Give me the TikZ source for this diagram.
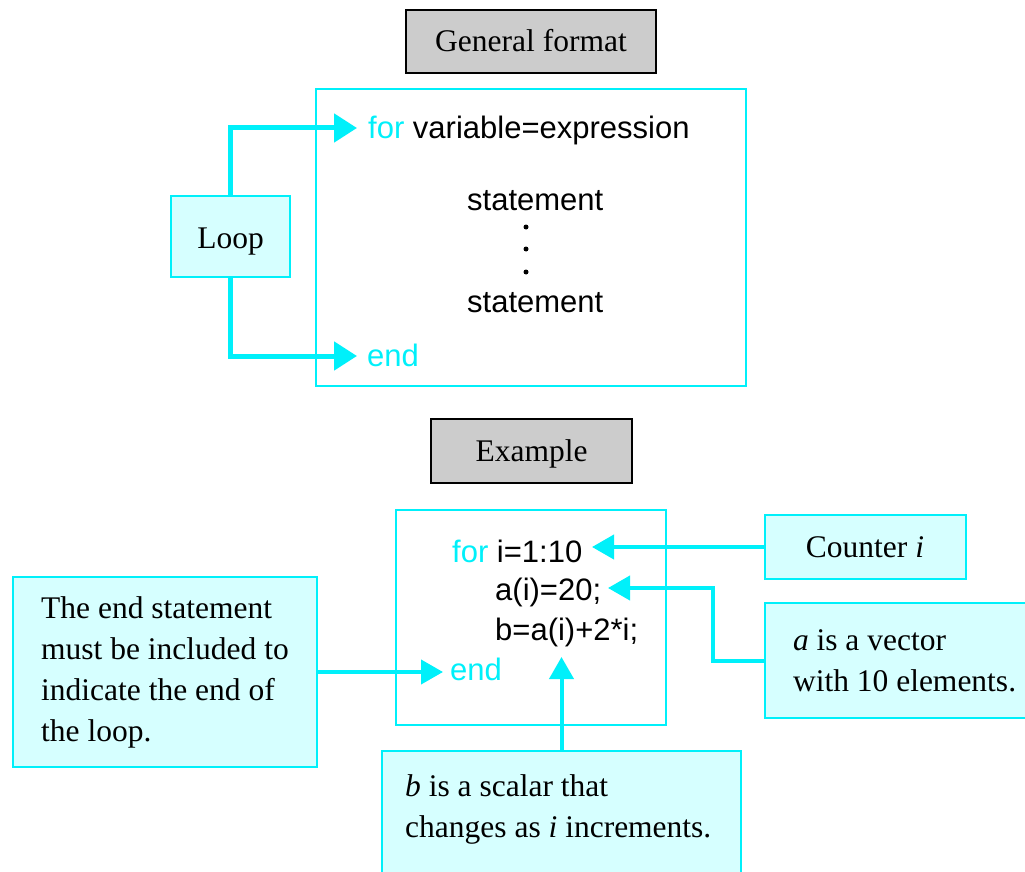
\documentclass[tikz,border=0pt]{standalone}
\usepackage{fontspec}
\setmainfont{Liberation Serif}
\newfontfamily\codefont{Liberation Sans}
\usetikzlibrary{arrows.meta}
\definecolor{cyanline}{RGB}{0,240,250}
\definecolor{cyanfill}{RGB}{214,255,255}
\definecolor{graybox}{RGB}{204,204,204}
\begin{document}
\begin{tikzpicture}[x=1pt,y=-1pt,
  serif/.style={font=\fontsize{31.5}{41}\selectfont},
  headbox/.style={draw=black,line width=2pt,fill=graybox,inner sep=0pt,serif,text height=28pt,text depth=7pt},
  codebox/.style={draw=cyanline,line width=2.5pt,inner sep=0pt},
  note/.style={draw=cyanline,line width=2pt,fill=cyanfill,inner sep=0pt,align=left,serif},
  codetext/.style={inner sep=0pt,anchor=base west,font=\codefont\fontsize{31}{36}\selectfont},
  dotmark/.style={circle,fill=black,inner sep=0pt,minimum size=5pt},
  bigarrow/.style={draw=cyanline,line width=5pt,-{Triangle[length=23pt,width=28pt]}},
  smallarrow/.style={draw=cyanline,line width=4pt,-{Triangle[length=22pt,width=24pt]}}]
\clip (0,0) rectangle (1025,872);
\fill[white] (0,0) rectangle (1025,872);

% headings
\node[headbox,minimum width=250pt,minimum height=63pt] (general) at (531,41.5) {General format};
\node[headbox,minimum width=201pt,minimum height=64pt] (example) at (531.5,451) {Example};

% general format box
\node[codebox,minimum width=430pt,minimum height=297pt] (topbox) at (531,237.5) {};
\node[codetext] (forline) at (368,139) {\textcolor{cyanline}{for} variable=expression};
\node[codetext] (stmt1) at (467,210) {statement};
\node[dotmark] (d1) at (526,227) {};
\node[dotmark] (d2) at (526,249) {};
\node[dotmark] (d3) at (526,272) {};
\node[codetext] (stmt2) at (467,312) {statement};
\node[codetext] (endkw) at (367,366) {\textcolor{cyanline}{end}};

\node[note,minimum width=119pt,minimum height=81pt,align=center,text height=30pt,text depth=7pt] (loop) at (230.5,236.5) {Loop};
\coordinate (fortip) at (357,128);
\coordinate (endtip) at (357,356);
\draw[bigarrow] (loop.north) |- (fortip);
\draw[bigarrow] (loop.south) |- (endtip);

% example box
\node[codebox,line width=2pt,minimum width=270pt,minimum height=215pt] (lowbox) at (531,617.5) {};
\node[codetext] (l1) at (452,562) {\textcolor{cyanline}{for} i=1:10};
\node[codetext] (l2) at (495,600) {a(i)=20;};
\node[codetext] (l3) at (495,640) {b=a(i)+2*i;};
\node[codetext] (l4) at (450,680) {\textcolor{cyanline}{end}};

% callouts
\node[note,minimum width=201pt,minimum height=64pt] (counter) at (865,547) {Counter \textit{i}};
\node[note,minimum height=115pt,anchor=west,inner xsep=28pt] (avec) at (764,660.5) {\textit{a} is a vector\\with 10 elements.};
\node[note,minimum width=304pt,minimum height=190pt] (endnote) at (165,672) {The end statement\\must be included to\\indicate the end of\\the loop.};
\node[note,minimum width=359pt,minimum height=140pt,anchor=north] (bnote) at (561.5,750) {};
\node[serif,align=left,inner sep=0pt,anchor=north west] (btext) at (405,774) {\textit{b} is a scalar that\\changes as \textit{i} increments.};

\coordinate (ctip) at (592,547);
\coordinate (atip) at (608,588);
\coordinate (etip) at (443,672);
\coordinate (btip) at (561.5,657);
\draw[smallarrow] (counter.west) -- (ctip);
\draw[smallarrow] (avec.west) -- ++(-51,0) |- (atip);
\draw[smallarrow] (endnote.east) -- (etip);
\draw[smallarrow] (bnote.north) -- (btip);
\end{tikzpicture}
\end{document}
